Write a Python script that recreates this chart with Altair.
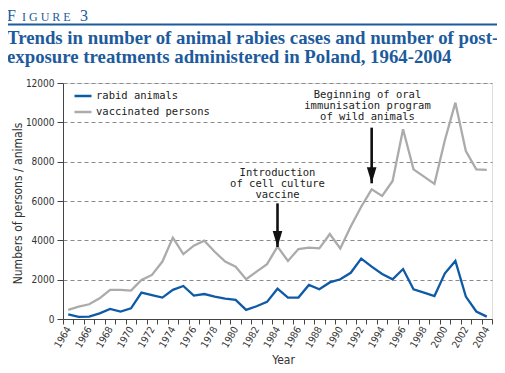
import altair as alt
import pandas as pd

# ---------------- data ----------------
years = list(range(1964, 2005))
rabid_animals = [240, 110, 120, 290, 510, 380, 540, 1340, 1220, 1090,
                 1480, 1680, 1190, 1270, 1140, 1040, 970, 460, 650, 870,
                 1540, 1090, 1090, 1730, 1510, 1860, 2020, 2350, 3070, 2660,
                 2290, 2020, 2540, 1510, 1340, 1170, 2320, 2950, 1140, 380,
                 120]
vaccinated_persons = [460, 630, 750, 1050, 1480, 1480, 1440, 1980, 2240, 2920,
                      4140, 3300, 3730, 3980, 3420, 2920, 2660, 2020, 2410, 2790,
                      3680, 2950, 3560, 3630, 3590, 4320, 3590, 4700, 5710, 6590,
                      6260, 7020, 9650, 7610, 7240, 6870, 9100, 11000, 8540, 7610,
                      7580]
series_names = ["rabid animals", "vaccinated persons"]
series_colors = ["#0e5aa7", "#ababab"]

y_ticks = [0, 2000, 4000, 6000, 8000, 10000, 12000]
x_tick_edges = [1963.5 + i for i in range(42)]

annot_text = ["Introduction\nof cell culture\nvaccine",
              "Beginning of oral\nimmunisation program\nof wild animals"]
annot_x = [1984, 1992.6]
annot_y = [7290, 11225]
arrow_x = [1984, 1993]
arrow_start = [5880, 9730]
arrow_tip = [3660, 6900]

title_lines = "Trends in number of animal rabies cases and number of post-\nexposure treatments administered in Poland, 1964-2004"

TITLE_BLUE = "#1d5b9c"
MONO = "DejaVu Sans Mono"
SANS = "DejaVu Sans Condensed, DejaVu Sans, sans-serif"
SERIF = "Liberation Serif"

df = pd.DataFrame({
    "year": years * 2,
    "value": rabid_animals + vaccinated_persons,
    "series": [series_names[0]] * len(years) + [series_names[1]] * len(years),
})
ann = pd.DataFrame({"year": annot_x, "value": annot_y, "label": annot_text})
arr = pd.DataFrame({"year": arrow_x, "start": arrow_start, "tip": arrow_tip})
one = pd.DataFrame({"k": [0]})

x_scale = alt.Scale(domain=[1963.5, 2004.5], nice=False, zero=False)
y_scale = alt.Scale(domain=[0, 12000], nice=False)

x_axis = alt.Axis(
    values=x_tick_edges, tickCount=100,
    labelExpr="(datum.value + 0.5) % 2 == 0 && datum.value < 2004 ? format(datum.value + 0.5, 'd') : ''",
    labelOffset=5.2, labelAngle=300, labelAlign="right", labelBaseline="middle",
    labelOverlap=False, labelFlush=False, labelBound=False,
    labelFont=SANS, labelFontSize=10, labelColor="#333", labelPadding=3,
    tickSize=5, tickColor="#444", domainColor="#444", grid=False,
    title="Year", titleFont=SANS, titleFontSize=12, titleFontWeight="normal",
    titleColor="#333", titleX=220, titleY=44, titleBaseline="alphabetic",
    titleAlign="center",
)
y_axis = alt.Axis(
    values=y_ticks, tickCount=20, format="d", labelOverlap=False,
    labelFont=SANS, labelFontSize=10, labelColor="#333", labelPadding=3,
    tickSize=6, tickColor="#444", domainColor="#444",
    grid=True, gridDash=[4, 3], gridColor="#8a8a8a", gridWidth=1,
    title="Numbers of persons / animals", titleFont=SANS, titleFontSize=12,
    titleFontWeight="normal", titleColor="#333", titleAngle=270,
    titleX=-46, titleY=120, titleBaseline="middle", titleAlign="center",
)

lines = alt.Chart(df).mark_line(strokeWidth=2.3).encode(
    x=alt.X("year:Q", scale=x_scale, axis=x_axis),
    y=alt.Y("value:Q", scale=y_scale, axis=y_axis),
    color=alt.Color("series:N",
                    scale=alt.Scale(domain=series_names, range=series_colors),
                    legend=alt.Legend(
                        title=None, orient="none", legendX=10, legendY=3,
                        symbolType="stroke", symbolSize=289, symbolStrokeWidth=2.5,
                        labelFont=MONO, labelFontSize=10.5, labelColor="#222",
                        labelOffset=3, rowPadding=0, padding=0,
                    )),
)

texts = alt.Chart(ann).mark_text(
    font=MONO, fontSize=10.5, lineBreak="\n", lineHeight=11,
    align="center", baseline="alphabetic", color="#222",
).encode(
    x=alt.X("year:Q", scale=x_scale),
    y=alt.Y("value:Q", scale=y_scale),
    text="label:N",
)

shafts = alt.Chart(arr).mark_rule(strokeWidth=2.6, color="#111").encode(
    x=alt.X("year:Q", scale=x_scale),
    y=alt.Y("start:Q", scale=y_scale),
    y2="tip:Q",
)
heads = alt.Chart(arr).mark_point(
    shape="M-0.6,-1L0.6,-1L0,1Z", size=256, filled=True, opacity=1,
    color="#111", yOffset=-8,
).encode(
    x=alt.X("year:Q", scale=x_scale),
    y=alt.Y("tip:Q", scale=y_scale),
)

# header decoration
fig_f = alt.Chart(one).mark_text(
    text="F", font=SERIF, fontSize=16, color=TITLE_BLUE, align="left",
    baseline="alphabetic").encode(x=alt.value(-56), y=alt.value(-62))
fig_rest = alt.Chart(one).mark_text(
    text="I G U R E", font=SERIF, fontSize=12, color=TITLE_BLUE, align="left",
    baseline="alphabetic").encode(x=alt.value(-41), y=alt.value(-62))
fig_num = alt.Chart(one).mark_text(
    text="3", font=SERIF, fontSize=16, color=TITLE_BLUE, align="left",
    baseline="alphabetic").encode(x=alt.value(17), y=alt.value(-62))
head_rule = alt.Chart(one).mark_rule(strokeWidth=2, color=TITLE_BLUE).encode(
    x=alt.value(-56), x2=alt.value(434), y=alt.value(-58.5))
head_title = alt.Chart(one).mark_text(
    text=title_lines, lineBreak="\n", lineHeight=19.6, font=SERIF, fontSize=18.8,
    fontWeight="bold", color=TITLE_BLUE, align="left", baseline="alphabetic",
).encode(x=alt.value(-56), y=alt.value(-39.3))

chart = alt.layer(
    lines, texts, shafts, heads, fig_f, fig_rest, fig_num, head_rule, head_title
).properties(
    width=429, height=236,
    autosize=alt.AutoSizeParams(type="none"),
    padding={"left": 55, "top": 75, "right": 5, "bottom": 46},
).configure_view(stroke=None).configure(background="white")

chart.save("out.html", embed_options={"renderer": "svg", "actions": False})
